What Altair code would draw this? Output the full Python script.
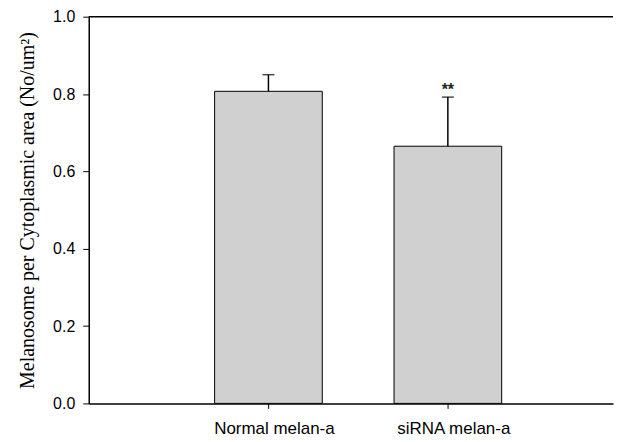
import altair as alt
import pandas as pd

categories = ["Normal melan-a", "siRNA melan-a"]
means = [0.807, 0.665]
errors = [0.043, 0.127]
significance = ["", "**"]
y_ticks = [0.0, 0.2, 0.4, 0.6, 0.8, 1.0]
y_max = 1.0

df = pd.DataFrame({
    "category": categories,
    "mean": means,
    "upper": [m + e for m, e in zip(means, errors)],
    "sig": significance,
})
top_df = pd.DataFrame({"ymax": [y_max]})

x_enc = alt.X(
    "category:N",
    sort=categories,
    scale=alt.Scale(paddingInner=0.4, paddingOuter=0.661, align=0.5307),
    axis=alt.Axis(
        title=None, labelAngle=0, tickSize=5, labelPadding=12, labelOffset=6,
        labelFont="Liberation Sans", labelFontSize=17, domainWidth=1.5,
    ),
)
y_scale = alt.Scale(domain=[0, y_max], nice=False, zero=True)

base = alt.Chart(df)

bars = base.mark_bar(fill="#d0d0d0", stroke="black", strokeWidth=1).encode(
    x=x_enc,
    y=alt.Y(
        "mean:Q",
        scale=y_scale,
        axis=alt.Axis(
            values=y_ticks, format=".1f", tickSize=6, labelPadding=8,
            labelFont="Liberation Sans", labelFontSize=16, grid=False,
            domainWidth=1.5,
            title="Melanosome per Cytoplasmic area (No/um²)",
            titleFont="Liberation Serif", titleFontSize=20,
            titleFontWeight="normal", titlePadding=15,
        ),
    ),
)

err = base.mark_rule(color="black", strokeWidth=1.5).encode(
    x=alt.X("category:N", sort=categories),
    y="mean:Q",
    y2="upper:Q",
)

cap = base.mark_tick(color="black", size=12, thickness=1.5).encode(
    x=alt.X("category:N", sort=categories),
    y="upper:Q",
)

stars = base.mark_text(
    font="Liberation Sans", fontSize=16, fontWeight="bold",
    baseline="alphabetic", dy=-2, color="#222",
).encode(
    x=alt.X("category:N", sort=categories),
    y="upper:Q",
    text="sig:N",
)

top_line = alt.Chart(top_df).mark_rule(color="black", strokeWidth=1.5).encode(
    y=alt.Y("ymax:Q", scale=y_scale)
)

chart = alt.layer(bars, err, cap, stars, top_line).properties(
    width=526, height=388,
    padding={"left": 9, "top": 0, "right": 0, "bottom": 0},
).configure_view(stroke=None).configure_axis(
    domainColor="black", tickColor="black", labelColor="black", titleColor="black"
)

chart.save("out.html", embed_options={"renderer": "svg", "actions": False})
